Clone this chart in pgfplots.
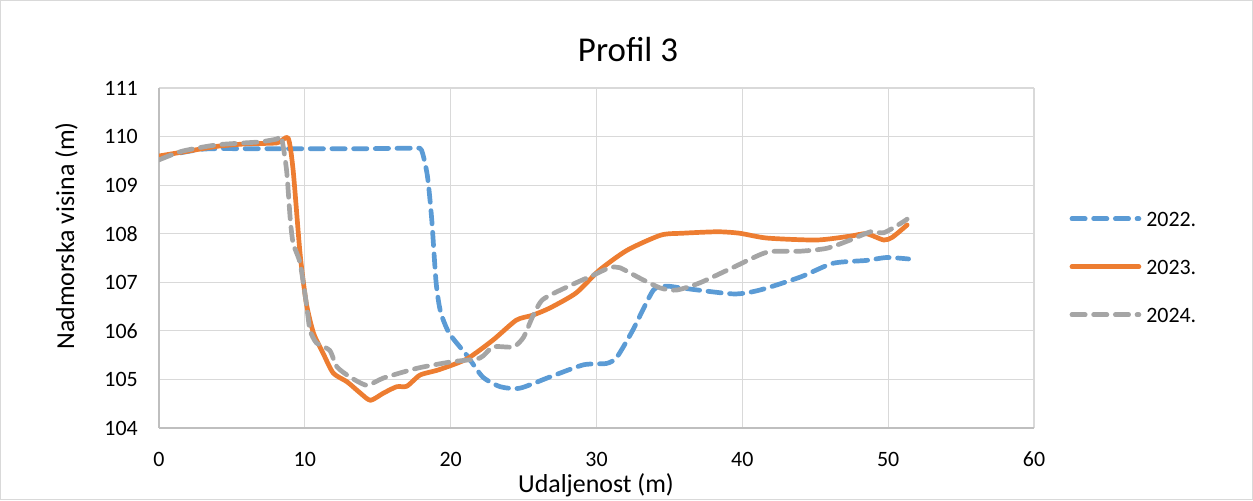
\documentclass[border=0pt]{standalone}
\usepackage{fontspec}
\setmainfont{Carlito}
\usepackage{pgfplots}
\pgfplotsset{compat=1.18}

\definecolor{c22}{HTML}{5B9BD5}
\definecolor{c23}{HTML}{ED7D31}
\definecolor{c24}{HTML}{A5A5A5}
\definecolor{gridc}{HTML}{D9D9D9}
\definecolor{axc}{HTML}{BFBFBF}

\begin{document}
\begin{tikzpicture}[x=1bp,y=1bp]
% chart frame
\draw[draw=gridc, line width=1bp] (0.5,0.5) rectangle (1252.5,499.5);

\begin{axis}[
    at={(159bp,72bp)}, anchor=south west,
    scale only axis,
    width=875bp, height=340bp,
    xmin=0, xmax=60, ymin=104, ymax=111,
    xtick={0,10,...,60}, ytick={104,105,...,111},
    grid=major,
    grid style={draw=gridc, line width=1.2bp},
    axis x line*=bottom, axis y line*=left,
    axis line style={draw=axc, line width=1.2bp, -},
    major tick length=0pt,
    /pgf/number format/assume math mode=true,
    /pgf/number format/1000 sep={},
    ticklabel style={font=\fontsize{22}{26}\selectfont},
    yticklabel style={anchor=east, inner sep=0pt, xshift=-21bp},
    xticklabel style={anchor=north, inner sep=0pt, yshift=-24bp},
    legend style={at={(1.037,0.474)}, anchor=west, draw=none, fill=none,
        font=\fontsize{22}{26}\selectfont,
        nodes={inner sep=0pt, text height=15bp, text depth=0bp},
        row sep=33bp, column sep=5bp},
    legend cell align=left,
    legend image code/.code={\draw[#1] (0bp,0bp) -- (67bp,0bp);},
    every axis plot/.append style={smooth, tension=0.4, line width=4.7bp, line join=round, line cap=round},
]
\addplot[c22, dash pattern=on 13.3bp off 8.4bp] coordinates {
(0,109.58) (3,109.74) (6,109.75) (10,109.75) (14,109.75) (17.5,109.76)
(18,109.72) (18.4,109.2) (18.7,108.3) (19.0,107.0) (19.3,106.4)
(19.9,105.95) (21.1,105.5) (22.2,105.05) (23.4,104.85) (24.75,104.82)
(26.8,105.05) (29.1,105.3) (30.7,105.33) (31.4,105.46) (32.5,106.02)
(33.9,106.84) (34.8,106.92) (35.9,106.88) (39.4,106.76) (41.2,106.84)
(44,107.11) (46.2,107.39) (48.5,107.45) (49.9,107.51) (51.4,107.48)
};
\addlegendentry{2022.}
\addplot[c23] coordinates {
(0,109.6) (2,109.7) (4,109.8) (6,109.85) (8.1,109.87) (8.85,109.97)
(9.2,109.3) (9.67,107.6) (10.1,106.57) (10.6,105.95) (11.25,105.54)
(11.95,105.13) (12.9,104.95) (13.8,104.72) (14.5,104.57) (15.4,104.72)
(16.3,104.85) (17,104.86) (17.9,105.09) (19.2,105.2) (21.1,105.42)
(22.9,105.81) (24.5,106.22) (25.6,106.32) (26.8,106.47) (28.6,106.78)
(30.2,107.25) (32.1,107.66) (34.4,107.97) (35.9,108.01) (38.3,108.04)
(39.8,108.01) (41.7,107.91) (45.1,107.87) (47.4,107.95) (48.5,108.0)
(49.7,107.87) (50.3,107.93) (51.3,108.18)
};
\addlegendentry{2023.}
\addplot[c24, dash pattern=on 13.3bp off 8.4bp] coordinates {
(0,109.52) (1.6,109.7) (4,109.83) (6.9,109.89) (8.1,109.95) (8.4,109.98)
(8.75,109.3) (9,108.3) (9.2,107.8) (9.67,107.4) (10.1,106.57)
(10.35,106.02) (10.8,105.75) (11.7,105.6) (12.2,105.26) (13.1,105.05)
(14.25,104.88) (15.4,105.03) (17.7,105.23) (20,105.36) (22,105.44)
(22.9,105.67) (24.3,105.67) (25,105.87) (25.6,106.28) (26.3,106.64)
(27.95,106.9) (29.8,107.15) (30.9,107.3) (31.6,107.3) (33,107.08)
(34.4,106.88) (35.5,106.84) (37.1,106.99) (39.4,107.31) (41.7,107.62)
(44,107.64) (45.8,107.7) (47.4,107.87) (48.8,108.04) (49.7,108.02)
(50.9,108.22) (51.3,108.3)
};
\addlegendentry{2024.}
\end{axis}

% title and axis titles
\node[anchor=base, font=\fontsize{35}{40}\selectfont] at (628,438) {Profil 3};
\node[anchor=base, font=\fontsize{26}{30}\selectfont] at (596,7) {Udaljenost (m)};
\node[anchor=base, rotate=90, font=\fontsize{26}{30}\selectfont] at (74,264) {Nadmorska visina (m)};
\end{tikzpicture}
\end{document}
